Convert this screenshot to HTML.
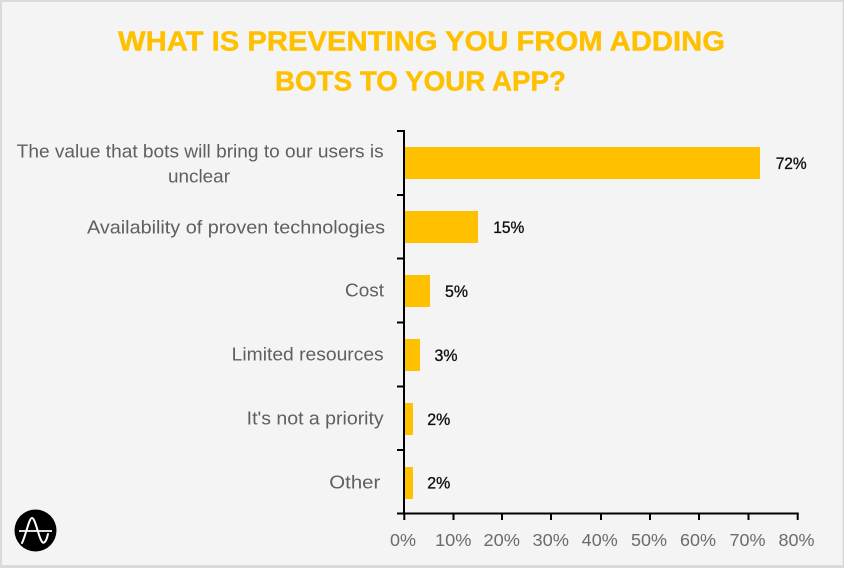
<!DOCTYPE html>
<html>
<head>
<meta charset="utf-8">
<style>
  html, body { margin: 0; padding: 0; background: #f3f4f3; }
  body { width: 844px; height: 568px; overflow: hidden; }
  svg { display: block; }
</style>
</head>
<body>
<svg width="844" height="568" viewBox="0 0 844 568" xmlns="http://www.w3.org/2000/svg">
  <!-- background + border -->
  <rect x="0" y="0" width="844" height="568" fill="#d9dad9"/>
  <rect x="2" y="2" width="840.5" height="563" fill="#f3f4f3"/>

  <!-- title -->
  <g font-family="'Liberation Sans', sans-serif" font-weight="bold" font-size="28" fill="#ffc000" stroke="#ffc000" stroke-width="0.4">
    <text x="118" y="50.7" textLength="607" lengthAdjust="spacingAndGlyphs">WHAT IS PREVENTING YOU FROM ADDING</text>
    <text x="275" y="90.7" textLength="291" lengthAdjust="spacingAndGlyphs">BOTS TO YOUR APP?</text>
  </g>

  <!-- bars -->
  <g fill="#ffc000">
    <rect x="405" y="147" width="355" height="32"/>
    <rect x="405" y="211" width="73" height="32"/>
    <rect x="405" y="275" width="25" height="32"/>
    <rect x="405" y="339" width="15" height="32"/>
    <rect x="405" y="403" width="8" height="32"/>
    <rect x="405" y="467" width="8" height="32"/>
  </g>

  <!-- axes -->
  <g stroke="#000" stroke-width="2" fill="none">
    <line x1="404" y1="130" x2="404" y2="514.5"/>
    <line x1="403" y1="513.5" x2="798.7" y2="513.5"/>
    <!-- y ticks -->
    <line x1="397" y1="131" x2="404" y2="131"/>
    <line x1="397" y1="195" x2="404" y2="195"/>
    <line x1="397" y1="258.5" x2="404" y2="258.5"/>
    <line x1="397" y1="322.5" x2="404" y2="322.5"/>
    <line x1="397" y1="386.5" x2="404" y2="386.5"/>
    <line x1="397" y1="450" x2="404" y2="450"/>
    <line x1="397" y1="513.5" x2="404" y2="513.5"/>
    <!-- x ticks -->
    <line x1="404.3" y1="513" x2="404.3" y2="520"/>
    <line x1="453.5" y1="513" x2="453.5" y2="520"/>
    <line x1="502" y1="513" x2="502" y2="520"/>
    <line x1="551" y1="513" x2="551" y2="520"/>
    <line x1="601" y1="513" x2="601" y2="520"/>
    <line x1="650" y1="513" x2="650" y2="520"/>
    <line x1="699" y1="513" x2="699" y2="520"/>
    <line x1="748.5" y1="513" x2="748.5" y2="520"/>
    <line x1="797.7" y1="513" x2="797.7" y2="520"/>
  </g>

  <!-- category labels -->
  <g font-family="'Liberation Sans', sans-serif" font-size="18.5" fill="#5f5f5f">
    <text x="16.7" y="157.3" textLength="367" lengthAdjust="spacingAndGlyphs">The value that bots will bring to our users is</text>
    <text x="168" y="182.3" textLength="62" lengthAdjust="spacingAndGlyphs">unclear</text>
    <text x="87" y="233.5" textLength="298" lengthAdjust="spacingAndGlyphs">Availability of proven technologies</text>
    <text x="345" y="296.7" textLength="39" lengthAdjust="spacingAndGlyphs">Cost</text>
    <text x="231.7" y="360.7" textLength="152" lengthAdjust="spacingAndGlyphs">Limited resources</text>
    <text x="246.7" y="424.7" textLength="137" lengthAdjust="spacingAndGlyphs">It's not a priority</text>
    <text x="329.3" y="488.7" textLength="51" lengthAdjust="spacingAndGlyphs">Other</text>
  </g>

  <!-- value labels -->
  <g font-family="'Liberation Sans', sans-serif" font-size="17" fill="#111" stroke="#111" stroke-width="0.35">
    <text x="775.7" y="169" textLength="31" lengthAdjust="spacingAndGlyphs">72%</text>
    <text x="493.3" y="233" textLength="31" lengthAdjust="spacingAndGlyphs">15%</text>
    <text x="445" y="297" textLength="23" lengthAdjust="spacingAndGlyphs">5%</text>
    <text x="434.5" y="361" textLength="23" lengthAdjust="spacingAndGlyphs">3%</text>
    <text x="427.3" y="425" textLength="23" lengthAdjust="spacingAndGlyphs">2%</text>
    <text x="427.3" y="488.7" textLength="23" lengthAdjust="spacingAndGlyphs">2%</text>
  </g>

  <!-- x tick labels -->
  <g font-family="'Liberation Sans', sans-serif" font-size="17.5" fill="#6b6b6b">
    <text x="390" y="546" textLength="26" lengthAdjust="spacingAndGlyphs">0%</text>
    <text x="435" y="546" textLength="36.5" lengthAdjust="spacingAndGlyphs">10%</text>
    <text x="483.5" y="546" textLength="36.5" lengthAdjust="spacingAndGlyphs">20%</text>
    <text x="532.5" y="546" textLength="36.5" lengthAdjust="spacingAndGlyphs">30%</text>
    <text x="581.7" y="546" textLength="36" lengthAdjust="spacingAndGlyphs">40%</text>
    <text x="631" y="546" textLength="36" lengthAdjust="spacingAndGlyphs">50%</text>
    <text x="680" y="546" textLength="36" lengthAdjust="spacingAndGlyphs">60%</text>
    <text x="729.5" y="546" textLength="36" lengthAdjust="spacingAndGlyphs">70%</text>
    <text x="778.5" y="546" textLength="36" lengthAdjust="spacingAndGlyphs">80%</text>
  </g>

  <!-- logo -->
  <g>
    <circle cx="35.5" cy="530.5" r="21" fill="#000"/>
    <path d="M22 543 C26 535, 29 518, 32 518 C35 518, 38 534, 41 540 C43 545, 46 543, 48 534"
          stroke="#fff" stroke-width="2" fill="none" stroke-linecap="round"/>
    <line x1="19" y1="531" x2="52" y2="531" stroke="#fff" stroke-width="1.8"/>
  </g>
</svg>
</body>
</html>
